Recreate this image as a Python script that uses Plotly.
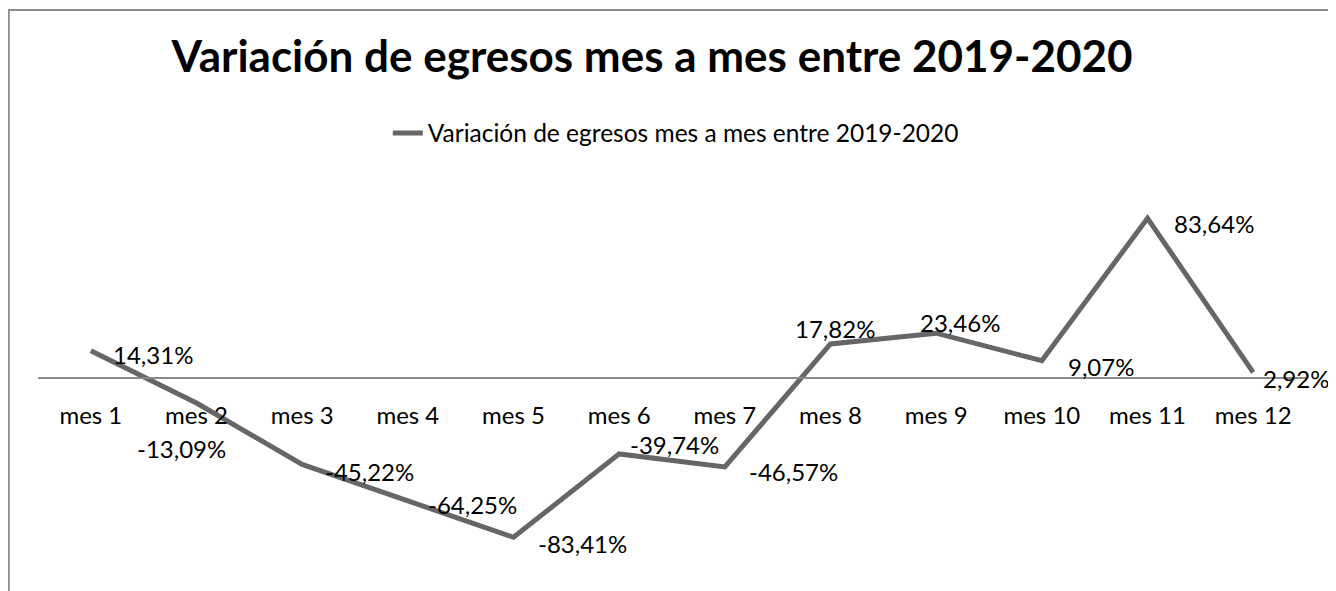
import plotly.graph_objects as go

categories = ["mes 1", "mes 2", "mes 3", "mes 4", "mes 5", "mes 6",
              "mes 7", "mes 8", "mes 9", "mes 10", "mes 11", "mes 12"]
values = [14.31, -13.09, -45.22, -64.25, -83.41, -39.74,
          -46.57, 17.82, 23.46, 9.07, 83.64, 2.92]
series_name = "Variación de egresos mes a mes entre 2019-2020"
title_text = "Variación de egresos mes a mes entre 2019-2020"

# label placement (style only): anchor, x shift px, y shift px
label_anchor = ["left", "center", "left", "left", "left", "left",
                "left", "center", "center", "left", "left", "left"]
label_dx = [20, -15, 21, 18, 22, 9, 22, 4, 24, 24, 24, 8]
label_dy = [-4, -45, -7, -4, -6, 9, -5, 15, 11, -6, -5, -6]

FONT = "Lato"
y_min, y_max = -100, 100

# plot area in figure pixels (page is offset by the 8px body margin)
L, R, T, B = 30, 38, 179, 30
W, H = 1336, 591
PW, PH = W - L - R, H - T - B

def fmt(v):
    return f"{v:.2f}".replace(".", ",") + "%"

fig = go.Figure()
fig.add_trace(go.Scatter(
    x=categories, y=values, mode="lines", name=series_name,
    line=dict(color="#666666", width=5),
    hoverinfo="skip",
))

for c, v, a, dx, dy in zip(categories, values, label_anchor, label_dx, label_dy):
    fig.add_annotation(x=c, y=v, xref="x", yref="y", text=fmt(v),
                       showarrow=False, xanchor=a, yanchor="middle",
                       xshift=dx, yshift=dy,
                       font=dict(family=FONT, size=24, color="#000000"))

# chart border
fig.add_shape(type="rect", xref="paper", yref="paper",
              x0=(0.8 - L) / PW, x1=(1327 - L) / PW,
              y0=-0.3, y1=(H - B - 2) / PH,
              line=dict(color="#8c8c8c", width=2), fillcolor="rgba(0,0,0,0)",
              layer="below")

fig.update_layout(
    width=W, height=H,
    margin=dict(l=L, r=R, t=T, b=B),
    paper_bgcolor="white", plot_bgcolor="white",
    title=dict(text=f"<b>{title_text}</b>", x=644 / W, xanchor="center",
               y=1 - 49 / H, yanchor="middle",
               font=dict(family=FONT, size=44, color="#000000")),
    showlegend=True,
    legend=dict(orientation="h", x=0.503, xanchor="center",
                y=(H - B - 125) / PH, yanchor="middle",
                font=dict(family=FONT, size=24.5, color="#000000"),
                bgcolor="rgba(0,0,0,0)"),
    xaxis=dict(
        anchor="free", position=(0 - y_min) / (y_max - y_min),
        showline=True, linecolor="#898989", linewidth=1.5,
        showgrid=False, zeroline=False,
        ticks="outside", ticklen=16, tickcolor="rgba(0,0,0,0)",
        tickfont=dict(family=FONT, size=24, color="#000000"),
        range=[-0.5, len(categories) - 0.5],
    ),
    yaxis=dict(
        range=[y_min, y_max], showgrid=False, zeroline=False,
        showticklabels=False, showline=False, ticks="",
    ),
)

fig.write_html("out.html")
